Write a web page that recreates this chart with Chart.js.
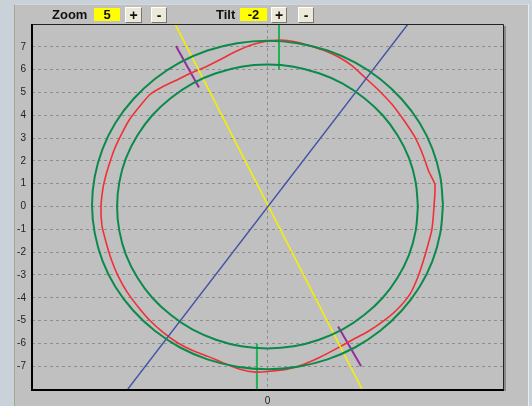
<!DOCTYPE html>
<html><head><meta charset="utf-8">
<script src="https://cdn.jsdelivr.net/npm/chart.js@4/dist/chart.umd.min.js"></script>
<style>
html,body{margin:0;padding:0;width:532px;height:406px;overflow:hidden;background:#c9d1d9;font-family:"Liberation Sans",Arial,sans-serif;}
#panel{position:absolute;left:14px;top:4px;width:513px;height:402px;background:#c0c0c0;border-left:1px solid #a9a58f;border-top:1px solid #d6d6d6;border-right:1px solid #ececec;}
#c{position:absolute;left:0;top:0;}
.lbl{position:absolute;top:6px;font-size:13px;font-weight:bold;color:#111;line-height:18px;}
.val{position:absolute;top:8px;height:13px;background:#ffff00;font-size:13px;font-weight:bold;text-align:center;line-height:14px;color:#111;}
.btn{position:absolute;top:7px;height:14px;background:#ece9d8;border:1px solid;border-color:#fff #777 #777 #fff;font-size:14px;font-weight:bold;text-align:center;line-height:14px;color:#111;}
</style>
</head><body>
<div id="panel"></div>
<canvas id="c" width="532" height="406"></canvas>
<div class="lbl" style="left:52px">Zoom</div>
<div class="val" style="left:94px;width:26px">5</div>
<div class="btn" style="left:125px;width:15px">+</div>
<div class="btn" style="left:151px;width:14px">-</div>
<div class="lbl" style="left:216px">Tilt</div>
<div class="val" style="left:240px;width:27px">-2</div>
<div class="btn" style="left:271px;width:14px">+</div>
<div class="btn" style="left:298px;width:14px">-</div>
<script>
// ---- data (chart units) ----
const yTickValues = [-7,-6,-5,-4,-3,-2,-1,0,1,2,3,4,5,6,7];
const xTickValues = [0];
const outerRing = [[7.63,0.07],[7.51,1.32],[7.17,2.53],[6.61,3.67],[5.84,4.70],[4.90,5.59],[3.82,6.31],[2.61,6.84],[1.32,7.16],[0,7.27],
 [-1.32,7.16],[-2.61,6.84],[-3.82,6.31],[-4.90,5.59],[-5.84,4.70],[-6.61,3.67],[-7.17,2.53],[-7.51,1.32],[-7.63,0.07],
 [-7.51,-1.18],[-7.17,-2.39],[-6.61,-3.53],[-5.84,-4.56],[-4.90,-5.45],[-3.82,-6.17],[-2.61,-6.70],[-1.32,-7.02],[0,-7.13],
 [1.32,-7.02],[2.61,-6.70],[3.82,-6.17],[4.90,-5.45],[5.84,-4.56],[6.61,-3.53],[7.17,-2.39],[7.51,-1.18],[7.63,0.07]];
const innerRing = [[6.54,0],[6.44,1.08],[6.15,2.13],[5.66,3.11],[5.01,4.00],[4.20,4.76],[3.27,5.39],[2.24,5.84],[1.14,6.13],[0,6.22],
 [-1.14,6.13],[-2.24,5.84],[-3.27,5.39],[-4.20,4.76],[-5.01,4.00],[-5.66,3.11],[-6.15,2.13],[-6.44,1.08],[-6.54,0],
 [-6.44,-1.08],[-6.15,-2.13],[-5.66,-3.11],[-5.01,-4.00],[-4.20,-4.76],[-3.27,-5.39],[-2.24,-5.84],[-1.14,-6.13],[0,-6.22],
 [1.14,-6.13],[2.24,-5.84],[3.27,-5.39],[4.20,-4.76],[5.01,-4.00],[5.66,-3.11],[6.15,-2.13],[6.44,-1.08],[6.54,0]];
const measuredProfile = [[0.02,7.26],[0.54,7.30],[1.20,7.22],[1.85,7.04],[2.50,6.83],[3.15,6.52],[3.67,6.17],[4.24,5.65],[4.80,5.13],
 [5.41,4.48],[5.93,3.78],[6.41,3.04],[6.76,2.26],[7.02,1.52],[7.28,0.96],[7.24,0.00],[7.15,-1.00],[7.02,-1.52],[6.80,-2.30],
 [6.54,-3.09],[6.20,-3.83],[5.67,-4.48],[5.02,-5.04],[4.37,-5.48],[3.72,-5.83],[3.02,-6.22],[2.28,-6.61],[1.59,-6.91],
 [0.85,-7.13],[0.11,-7.22],[-0.54,-7.26],[-1.20,-7.13],[-1.89,-6.87],[-2.59,-6.57],[-3.28,-6.30],[-3.93,-5.96],[-4.54,-5.52],
 [-5.11,-5.00],[-5.63,-4.39],[-6.11,-3.74],[-6.50,-3.04],[-6.80,-2.30],[-7.02,-1.57],[-7.20,-0.83],[-7.24,0.00],[-7.15,0.83],
 [-7.02,1.39],[-6.89,1.83],[-6.67,2.48],[-6.37,3.13],[-6.02,3.78],[-5.59,4.35],[-5.11,4.91],[-4.54,5.26],[-3.89,5.57],
 [-3.28,5.87],[-2.67,6.13],[-2.07,6.43],[-1.41,6.78],[-0.67,7.09],[0.02,7.26]];
const blueLine = [[-6.07,-8],[6.11,8]];
const yellowLine = [[-4.02,8],[4.11,-8]];
const purpleUpper = [[-3.98,7.04],[-2.98,5.22]];
const purpleLower = [[3.07,-5.26],[4.07,-7.0]];
const greenTop = [[0.5,8],[0.5,6.0]];
const greenBottom = [[-0.46,-6.0],[-0.46,-8]];

const pts = a => a.map(p => ({x:p[0], y:p[1]}));
const ds = (data, color, w, t) => ({data: pts(data), borderColor: color, borderWidth: w, showLine: true, pointRadius: 0, tension: t || 0, fill: false});

const frame = {
  id: 'frame',
  afterDatasetsDraw(chart) {
    const {ctx, chartArea: a} = chart;
    ctx.save();
    ctx.fillStyle = '#8a8a8a';
    ctx.fillRect(a.right + 1, a.top + 2, 2, a.bottom - a.top);
    ctx.strokeStyle = '#222'; ctx.lineWidth = 1;
    ctx.beginPath(); ctx.moveTo(a.left, a.top + 0.5); ctx.lineTo(a.right + 0.5, a.top + 0.5); ctx.lineTo(a.right + 0.5, a.bottom); ctx.stroke();
    ctx.strokeStyle = '#000'; ctx.lineWidth = 2;
    ctx.beginPath(); ctx.moveTo(a.left, a.top); ctx.lineTo(a.left, a.bottom + 1); ctx.lineTo(a.right + 1, a.bottom + 1); ctx.stroke();
    ctx.restore();
  }
};

new Chart(document.getElementById('c'), {
  type: 'scatter',
  data: { datasets: [
    ds(outerRing, '#0b8a4c', 2, 0.4),
    ds(innerRing, '#0b8a4c', 2, 0.4),
    ds(blueLine, '#4452a4', 1.4),
    ds(yellowLine, '#f4f000', 1.6),
    ds(measuredProfile, '#f03035', 1.6, 0.2),
    ds(purpleUpper, '#93309a', 2),
    ds(purpleLower, '#93309a', 2),
    ds(greenTop, '#1fb356', 2),
    ds(greenBottom, '#1fb356', 2)
  ]},
  options: {
    responsive: false, animation: false, devicePixelRatio: 1, events: [],
    layout: { padding: { left: 0, top: 24, right: 29, bottom: 0 } },
    plugins: { legend: { display: false }, tooltip: { enabled: false } },
    scales: {
      x: {
        type: 'linear', min: -10.24, max: 10.24,
        afterBuildTicks: s => { s.ticks = xTickValues.map(v => ({value: v})); },
        afterFit: s => { s.height = 17; },
        grid: { color: '#8e8e8e', lineWidth: 1, drawTicks: false },
        border: { display: false, dash: [3, 3] },
        ticks: { padding: 6, color: '#222', font: { family: 'Liberation Sans', size: 10 }, callback: v => String(v) }
      },
      y: {
        type: 'linear', min: -8, max: 8,
        afterBuildTicks: s => { s.ticks = yTickValues.map(v => ({value: v})); },
        afterFit: s => { s.width = 32; },
        grid: { color: '#8e8e8e', lineWidth: 1, drawTicks: false },
        border: { display: false, dash: [3, 3] },
        ticks: { padding: 6, color: '#222', font: { family: 'Liberation Sans', size: 10 }, callback: v => String(v) }
      }
    }
  },
  plugins: [frame]
});
</script>
</body></html>
